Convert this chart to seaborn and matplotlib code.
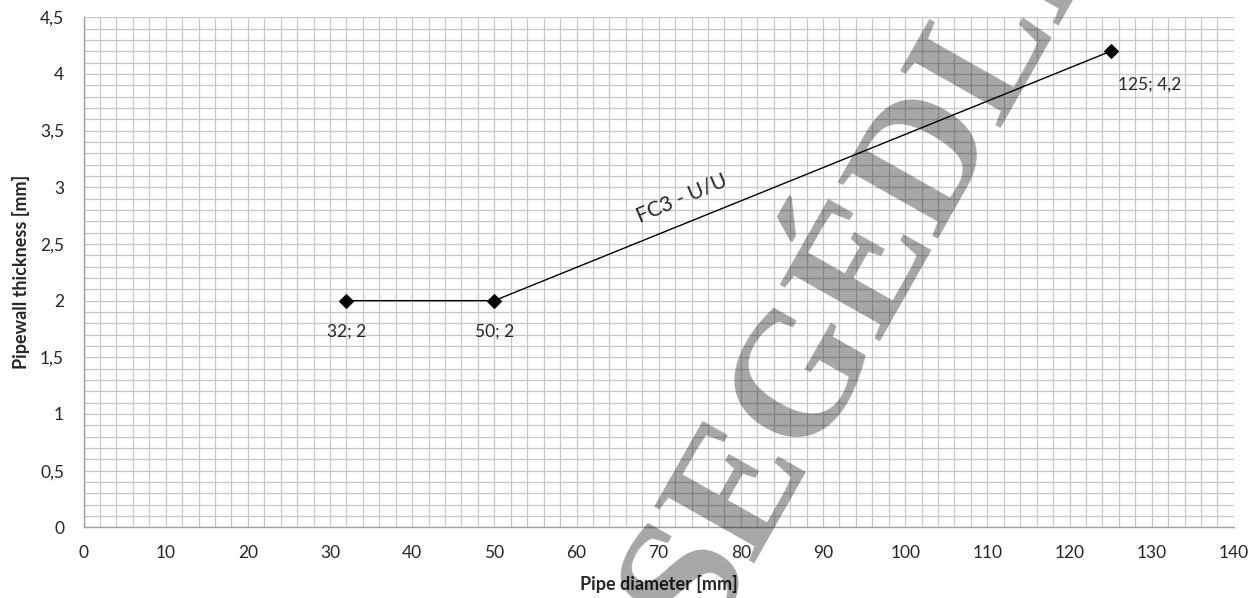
import matplotlib
matplotlib.use("Agg")
import matplotlib.pyplot as plt
import seaborn as sns
import pandas as pd
from matplotlib.ticker import MultipleLocator, FuncFormatter

# ---------- data ----------
pipe_diameter = [32, 50, 125]          # mm
wall_thickness = [2, 2, 4.2]           # mm
series_name = "FC3 - U/U"
watermark = "SEGÉDLET"

df = pd.DataFrame({"diameter": pipe_diameter, "thickness": wall_thickness})

sns.set_style("white")
plt.rcParams["font.family"] = ["Lato", "DejaVu Sans"]


def comma(v, pos=None):
    return f"{v:g}".replace(".", ",")


fig = plt.figure(figsize=(12.52, 5.98), dpi=100)
ax = fig.add_axes([0.0667, 0.1182, 0.9188, 0.8529])

sns.lineplot(data=df, x="diameter", y="thickness", marker="D", color="black",
             linewidth=1.0, markersize=7, markeredgecolor="black",
             legend=False, ax=ax, zorder=3)

ax.set_xlim(0, 140)
ax.set_ylim(0, 4.5)
ax.xaxis.set_major_locator(MultipleLocator(10))
ax.xaxis.set_minor_locator(MultipleLocator(2))
ax.yaxis.set_major_locator(MultipleLocator(0.5))
ax.yaxis.set_minor_locator(MultipleLocator(0.1))
ax.yaxis.set_major_formatter(FuncFormatter(comma))

ax.grid(which="both", color="#c8c8c8", linewidth=0.9)
ax.set_axisbelow(True)
for side in ["top", "right"]:
    ax.spines[side].set_visible(False)
for side in ["left", "bottom"]:
    ax.spines[side].set_color("#a0a0a0")
    ax.spines[side].set_linewidth(1.0)

ax.tick_params(which="both", length=0, labelsize=12.5, labelcolor="#262626")
ax.tick_params(axis="x", pad=13)
ax.tick_params(axis="y", pad=14)

ax.set_xlabel("Pipe diameter [mm]", fontsize=13, fontweight="bold", labelpad=10)
ax.set_ylabel("Pipewall thickness [mm]", fontsize=13, fontweight="bold", labelpad=7)

# data labels
offsets = [(0, -22), (0, -22), (28, -24)]
for x, y, off in zip(pipe_diameter, wall_thickness, offsets):
    ax.annotate(f"{comma(x)}; {comma(y)}", (x, y), xytext=off, textcoords="offset points",
                ha="center", va="center", fontsize=12.5, color="#262626")

# series label along the rising segment
xm = 73.8
ym = wall_thickness[1] + (xm - pipe_diameter[1]) * (wall_thickness[2] - wall_thickness[1]) / (pipe_diameter[2] - pipe_diameter[1])
ax.annotate(series_name, (xm, ym), xytext=(-6, 17), textcoords="offset points",
            ha="center", va="center", rotation=23, fontsize=15, color="#262626")

# watermark
fig.text(0.747, 0.618, watermark, fontsize=127, family=["Liberation Serif"],
         fontweight="bold", rotation=60.5, rotation_mode="anchor",
         ha="center", va="baseline", color="black", alpha=0.35, zorder=10)

fig.savefig("out.png", dpi=100)
